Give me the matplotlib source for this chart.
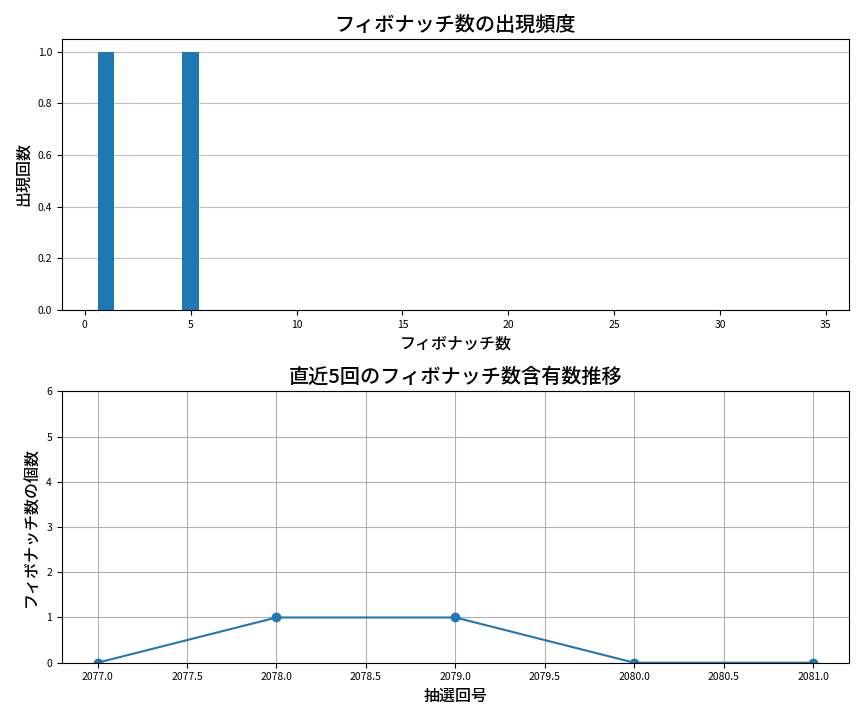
import matplotlib
matplotlib.use("Agg")
import matplotlib.pyplot as plt

plt.rcParams['font.family'] = ['Noto Sans CJK JP', 'DejaVu Sans']

# fibonacci numbers and their appearance counts
fib_numbers = [1, 2, 3, 5, 8, 13, 21, 34]
fib_counts = [1, 0, 0, 1, 0, 0, 0, 0]

# recent 5 draws
draw_numbers = [2077, 2078, 2079, 2080, 2081]
fib_per_draw = [0, 1, 1, 0, 0]

fig, (ax1, ax2) = plt.subplots(2, 1, figsize=(8.64, 7.2), dpi=100)

ax1.bar(fib_numbers, fib_counts, color='#1f77b4')
ax1.set_title('フィボナッチ数の出現頻度', fontsize=14.5, fontweight='medium')
ax1.set_xlabel('フィボナッチ数', fontsize=11.5, fontweight='medium')
ax1.set_ylabel('出現回数', fontsize=11.5, fontweight='medium')
ax1.grid(axis='y', alpha=0.8)
ax1.set_axisbelow(True)
ax1.tick_params(labelsize=7.5)

ax2.plot(draw_numbers, fib_per_draw, marker='o', color='#1f77b4')
ax2.set_title('直近5回のフィボナッチ数含有数推移', fontsize=14.5, fontweight='medium')
ax2.set_xlabel('抽選回号', fontsize=11.5, fontweight='medium')
ax2.set_ylabel('フィボナッチ数の個数', fontsize=11.5, fontweight='medium')
ax2.set_ylim(0, 6)
ax2.grid(True)
ax2.tick_params(labelsize=7.5)

plt.tight_layout()
plt.savefig('out.png')
